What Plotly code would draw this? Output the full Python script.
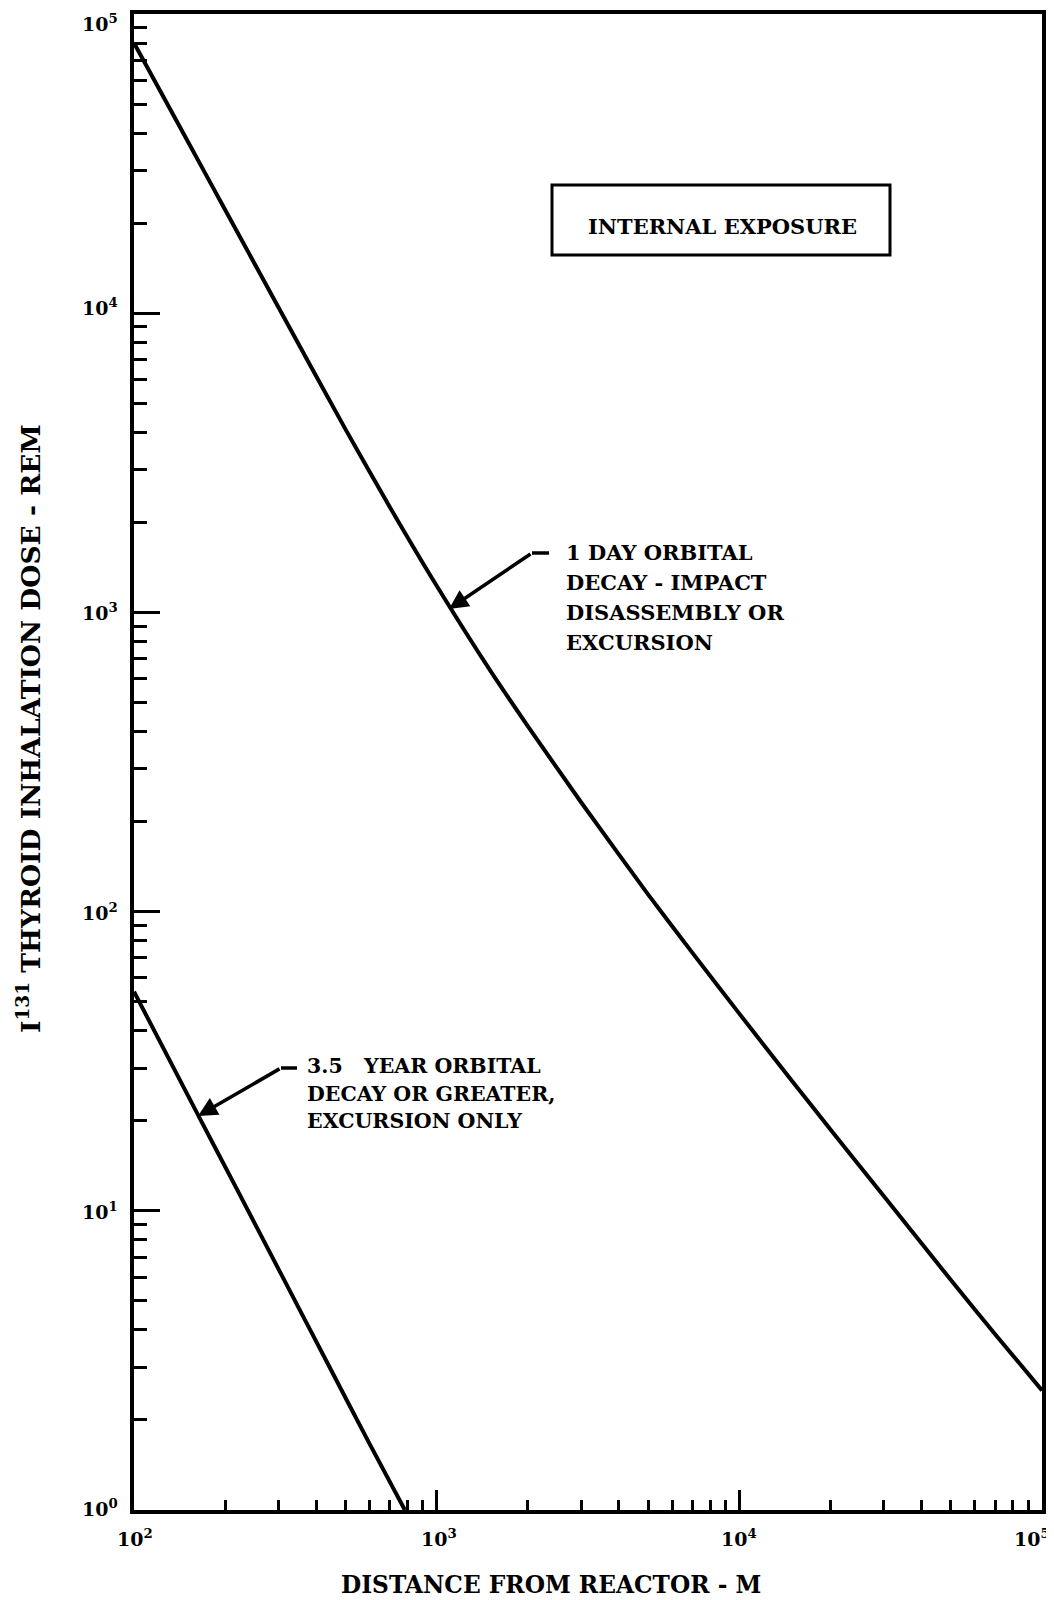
import math
import plotly.graph_objects as go

# ---------------- data ----------------
dist_1day = [100, 150, 200, 300, 500, 700, 1000, 1500, 2000, 3000, 5000,
             7000, 10000, 15000, 20000, 30000, 50000, 70000, 100000]
dose_1day = [80000, 37760, 22180, 10470, 4090, 2250, 1227, 641, 417, 232, 114,
             72.8, 45.6, 27.0, 18.7, 11.2, 5.87, 3.87, 2.51]

dist_35yr = [100, 164, 217, 310, 443, 601, 785]
dose_35yr = [54, 20.6, 12.0, 6.0, 3.0, 1.66, 1.0]

x_major = [100, 1000, 10000, 100000]
x_major_text = ["10<sup>2</sup>", "10<sup>3</sup>", "10<sup>4</sup>", "10<sup>5</sup>"]
y_major = [1, 10, 100, 1000, 10000, 100000]
y_major_text = ["10<sup>0</sup>", "10<sup>1</sup>", "10<sup>2</sup>",
                "10<sup>3</sup>", "10<sup>4</sup>", "10<sup>5</sup>"]
x_minor = [m * d for d in (100, 1000, 10000) for m in range(2, 10)]
y_minor = [m * d for d in (1, 10, 100, 1000, 10000) for m in range(2, 10)]

label_1day = ["1 DAY ORBITAL", "DECAY - IMPACT", "DISASSEMBLY OR", "EXCURSION"]
label_35yr = ["3.5\u00a0\u00a0 YEAR ORBITAL", "DECAY OR GREATER,", "EXCURSION ONLY"]
box_text = "INTERNAL EXPOSURE"
x_title = "DISTANCE FROM REACTOR - M"
y_title = "I<sup>131</sup> THYROID INHALATION DOSE - REM"

# ---------------- layout geometry ----------------
# page pixel coordinates of the plot frame; the html body adds an 8 px margin
OFF = 8
W, H = 1054 - OFF, 1600 - OFF
Lp, Rp, Tp, Bp = 134, 1042, 14, 1510
FONT = "DejaVu Serif"


def px(xp):
    return (xp - Lp) / (Rp - Lp)


def py(yp):
    return (Bp - yp) / (Bp - Tp)


def tfont(size):
    return dict(family=FONT, size=size, color="black", weight="bold")


fig = go.Figure()
fig.add_trace(go.Scatter(x=dist_1day, y=dose_1day, mode="lines",
                         line=dict(color="black", width=4, shape="spline", smoothing=0.6),
                         showlegend=False, hoverinfo="skip"))
fig.add_trace(go.Scatter(x=dist_35yr, y=dose_35yr, mode="lines",
                         line=dict(color="black", width=4, shape="spline", smoothing=0.5),
                         showlegend=False, hoverinfo="skip"))

axis_common = dict(type="log", showgrid=False, zeroline=False, showline=True,
                   linecolor="black", linewidth=4, mirror=True, automargin=False,
                   ticks="inside", tickcolor="black", tickwidth=3,
                   tickmode="array", showticklabels=False)

fig.update_xaxes(range=[2, 5], tickvals=x_major, ticklen=20,
                 minor=dict(tickmode="array", tickvals=x_minor, ticks="inside",
                            ticklen=10, tickwidth=3, tickcolor="black"),
                 **axis_common)
fig.update_yaxes(range=[0, 5], tickvals=y_major, ticklen=26,
                 minor=dict(tickmode="array", tickvals=y_minor, ticks="inside",
                            ticklen=13, tickwidth=3, tickcolor="black"),
                 **axis_common)

annotations = []
shapes = []

# tick labels placed on the axis scales
x_shift = {100: 1, 1000: 2, 10000: 0, 100000: -10}
for v, t in zip(x_major, x_major_text):
    annotations.append(dict(xref="x", yref="paper", x=math.log10(v), y=py(1538),
                            text=t, showarrow=False, xanchor="center", yanchor="middle",
                            xshift=x_shift[v], font=tfont(19)))
y_shift = {1: 2, 10: 0, 100: 0, 1000: 0, 10000: 6, 100000: -9}
for v, t in zip(y_major, y_major_text):
    annotations.append(dict(xref="paper", yref="y", x=px(120), y=math.log10(v),
                            text=t, showarrow=False, xanchor="right", yanchor="middle",
                            yshift=y_shift[v], font=tfont(19)))

# boxed title
shapes.append(dict(type="rect", xref="paper", yref="paper",
                   x0=px(552), x1=px(890), y0=py(255), y1=py(185),
                   line=dict(color="black", width=3)))
annotations.append(dict(xref="paper", yref="paper", x=px(722), y=py(226),
                        text=box_text, showarrow=False, xanchor="center", yanchor="middle",
                        font=tfont(21)))

# 1 day label
for i, line in enumerate(label_1day):
    annotations.append(dict(xref="paper", yref="paper", x=px(564), y=py(552 + 30 * i),
                            text=line, showarrow=False, xanchor="left", yanchor="middle",
                            font=tfont(21)))
shapes.append(dict(type="line", xref="paper", yref="paper",
                   x0=px(532), y0=py(553), x1=px(549), y1=py(553),
                   line=dict(color="black", width=3.5)))
annotations.append(dict(xref="paper", yref="paper", x=px(449), y=py(609),
                        ax=532 - 449, ay=553 - 609, text="", showarrow=True,
                        arrowhead=2, arrowsize=1.1, arrowwidth=3.5, arrowcolor="black"))

# 3.5 year label
for i, line in enumerate(label_35yr):
    annotations.append(dict(xref="paper", yref="paper", x=px(305), y=py(1066 + 27.5 * i),
                            text=line, showarrow=False, xanchor="left", yanchor="middle",
                            font=tfont(20.5)))
shapes.append(dict(type="line", xref="paper", yref="paper",
                   x0=px(281), y0=py(1068), x1=px(297), y1=py(1068),
                   line=dict(color="black", width=3.5)))
annotations.append(dict(xref="paper", yref="paper", x=px(198), y=py(1116),
                        ax=281 - 198, ay=1068 - 1116, text="", showarrow=True,
                        arrowhead=2, arrowsize=1.1, arrowwidth=3.5, arrowcolor="black"))

# axis titles
annotations.append(dict(xref="paper", yref="paper", x=px(551), y=py(1585),
                        text=x_title, showarrow=False, xanchor="center", yanchor="middle",
                        font=tfont(23.3)))
annotations.append(dict(xref="paper", yref="paper", x=px(29), y=py(729),
                        text=y_title, showarrow=False, xanchor="center", yanchor="middle",
                        textangle=-90, font=tfont(26.5)))

fig.update_layout(template="none", width=W, height=H, autosize=False,
                  margin=dict(l=Lp - OFF, r=W - (Rp - OFF), t=Tp - OFF, b=H - (Bp - OFF), pad=0),
                  paper_bgcolor="white", plot_bgcolor="white",
                  shapes=shapes, annotations=annotations, showlegend=False)

fig.write_html("out.html")
